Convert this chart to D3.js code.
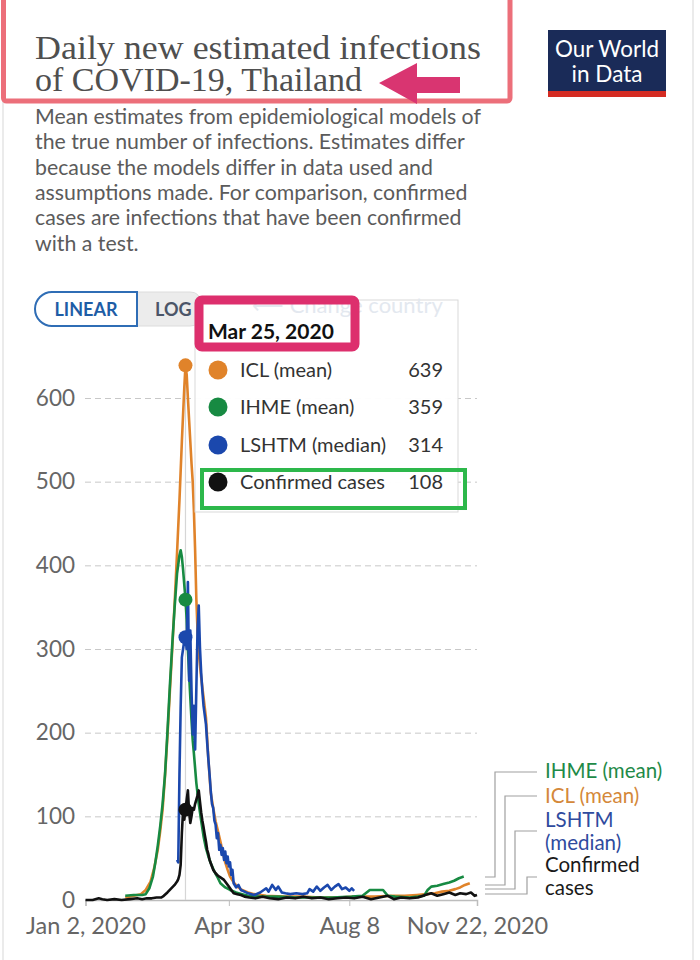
<!DOCTYPE html>
<html><head><meta charset="utf-8">
<script src="https://cdn.jsdelivr.net/npm/d3@7"></script>
<style>
html,body{margin:0;padding:0;background:#fff;}
svg{display:block;font-family:Lato, "Noto Sans", sans-serif;}
</style></head>
<body>
<svg id="chart" width="700" height="960"></svg>
<script>
// ---------- data ----------
const titleLines = ["Daily new estimated infections", "of COVID-19, Thailand"];
const subtitleLines = [
  "Mean estimates from epidemiological models of",
  "the true number of infections. Estimates differ",
  "because the models differ in data used and",
  "assumptions made. For comparison, confirmed",
  "cases are infections that have been confirmed",
  "with a test."
];
const seriesNames = ["ICL (mean)", "IHME (mean)", "LSHTM (median)", "Confirmed cases"];
const seriesColors = ["#e0832a", "#178a42", "#1b48ad", "#111111"];
const legendColors = ["#d4883a", "#1e8a48", "#2f4b9e", "#1a1a1a"];
const legendOrder = [1, 0, 2, 3];
const legendLines = [["IHME (mean)"], ["ICL (mean)"], ["LSHTM", "(median)"], ["Confirmed", "cases"]];

const hoverDate = "2020-03-25";
const hoverLabel = "Mar 25, 2020";
const hoverValues = [639, 359, 314, 108];

const yTicks = [0, 100, 200, 300, 400, 500, 600];
const xTickDates = ["2020-01-02", "2020-04-30", "2020-08-08", "2020-11-22"];
const xTickLabels = ["Jan 2, 2020", "Apr 30", "Aug 8", "Nov 22, 2020"];

const icl = [
  ["02-04",3],["02-11",5],["02-17",7],["02-21",12],["02-25",22],["02-28",38],["03-02",60],
  ["03-04",82],["03-06",108],["03-08",148],["03-10",195],["03-12",248],["03-14",300],
  ["03-16",355],["03-18",415],["03-20",478],["03-22",548],["03-24",612],["03-25",639],
  ["03-26",628],["03-27",600],["03-28",574],["03-29",548],["03-30",522],["03-31",500],
  ["04-01",465],["04-02",418],["04-03",360],["04-04",322],["04-05",296],["04-07",266],
  ["04-09",242],["04-11",218],["04-13",168],["04-15",128],["04-17",110],["04-19",94],
  ["04-21",82],["04-23",70],["04-25",57],["04-27",45],["04-29",36],["05-01",28],["05-04",21],
  ["05-07",16],["05-11",12],["05-16",9],["05-21",7],["05-31",5],["06-15",4],["06-30",4],
  ["07-15",3],["07-30",3],["08-14",4],["08-29",4],["09-13",5],["09-23",5],["10-03",6],
  ["10-11",7],["10-18",8],["10-24",10],["10-30",11],["11-04",13],["11-08",15],["11-12",18],["11-16",20]
];
const ihme = [
  ["02-04",5],["02-11",6],["02-18",6],["02-21",7],["02-24",14],["02-27",28],["02-29",45],
  ["03-02",65],["03-04",88],["03-06",115],["03-08",150],["03-10",200],["03-12",255],
  ["03-14",305],["03-16",350],["03-18",390],["03-20",412],["03-21",418],["03-22",410],
  ["03-23",395],["03-24",377],["03-25",359],["03-26",335],["03-27",300],["03-28",270],
  ["03-29",242],["03-30",215],["03-31",191],["04-01",175],["04-03",140],["04-05",115],
  ["04-07",95],["04-09",76],["04-11",62],["04-13",52],["04-15",44],["04-18",34],["04-21",26],
  ["04-23",20],["04-27",15],["05-01",12],["05-06",9],["05-11",7],["05-16",5],["05-25",4],
  ["06-10",4],["06-25",3],["07-10",3],["07-25",3],["08-10",4],["08-19",5],["08-25",12],
  ["09-05",12],["09-09",5],["09-15",4],["09-27",3],["10-04",4],["10-09",5],["10-12",12],
  ["10-15",16],["10-20",17],["10-25",19],["10-30",21],["11-03",23],["11-07",26],["11-11",28]
];
const lshtm = [
  ["03-18",48],["03-19",45],["03-20",150],["03-21",230],["03-22",290],["03-23",300],
  ["03-24",310],["03-25",314],["03-26",300],["03-27",380],["03-28",262],["03-29",322],
  ["03-30",250],["03-31",198],["04-01",232],["04-02",180],["04-03",252],["04-04",322],
  ["04-05",352],["04-06",302],["04-07",272],["04-08",250],["04-09",232],["04-11",210],
  ["04-12",188],["04-13",168],["04-14",150],["04-15",130],["04-16",115],["04-17",110],
  ["04-18",95],["04-19",90],["04-20",74],["04-21",80],["04-22",60],["04-23",66],["04-24",54],
  ["04-25",62],["04-26",48],["04-27",58],["04-28",44],["04-29",52],["04-30",40],["05-01",45],
  ["05-02",30],["05-03",36],["05-04",20],["05-06",15],["05-08",18],["05-10",12],["05-13",10],
  ["05-16",8],["05-21",6],["05-26",9],["05-31",14],["06-02",10],["06-05",18],["06-08",12],
  ["06-10",16],["06-13",9],["06-16",8],["06-20",7],["06-25",8],["06-30",7],["07-04",8],
  ["07-06",13],["07-09",10],["07-12",16],["07-15",11],["07-18",15],["07-21",18],["07-24",12],
  ["07-27",16],["07-30",19],["08-02",13],["08-05",15],["08-08",11],["08-10",14],["08-12",11]
];
const confirmed = [
  ["01-02",0],["01-08",0],["01-13",2],["01-16",1],["01-20",0],["01-26",1],["02-01",0],
  ["02-08",1],["02-14",2],["02-18",1],["02-22",2],["02-26",2],["03-01",3],["03-05",3],
  ["03-07",5],["03-10",9],["03-12",12],["03-14",15],["03-16",18],["03-18",22],["03-19",25],
  ["03-20",30],["03-21",42],["03-22",80],["03-23",107],["03-24",96],["03-25",108],["03-26",120],
  ["03-27",131],["03-28",105],["03-29",92],["03-30",100],["03-31",110],["04-01",108],
  ["04-02",115],["04-03",120],["04-04",125],["04-05",131],["04-06",118],["04-07",105],
  ["04-08",95],["04-09",87],["04-10",78],["04-11",70],["04-12",60],["04-13",55],["04-14",48],
  ["04-15",44],["04-16",40],["04-17",36],["04-19",32],["04-21",29],["04-23",27],["04-26",24],
  ["04-28",20],["04-30",16],["05-02",12],["05-04",8],["05-07",7],["05-10",6],["05-13",4],
  ["05-17",3],["05-22",2],["05-28",4],["06-03",2],["06-10",1],["06-17",3],["06-24",2],
  ["07-01",4],["07-08",2],["07-15",3],["07-22",1],["07-29",2],["08-05",3],["08-12",2],
  ["08-19",4],["08-26",1],["09-02",3],["09-09",5],["09-14",1],["09-20",3],["09-27",2],
  ["10-04",3],["10-10",6],["10-15",8],["10-20",5],["10-25",7],["10-30",9],["11-04",6],
  ["11-08",8],["11-13",7],["11-17",9],["11-20",5],["11-22",6]
];
const seriesData = [icl, ihme, lshtm, confirmed];

// ---------- drawing ----------
const svg = d3.select("#chart");
const parse = d3.timeParse("%Y-%m-%d");
const toPts = arr => arr.map(([d, v]) => ({date: parse("2020-" + d), value: v}));
const series = seriesData.map(toPts);

// card border
svg.append("line").attr("x1", 693).attr("x2", 693).attr("y1", 0).attr("y2", 960)
  .attr("stroke", "#e4e4e4").attr("stroke-width", 1.5);
svg.append("line").attr("x1", 3).attr("x2", 3).attr("y1", 0).attr("y2", 960)
  .attr("stroke", "#e4e4e4").attr("stroke-width", 1.5);

// title
const title = svg.append("g").attr("font-family", "'Liberation Serif', 'DejaVu Serif', serif")
  .attr("fill", "#4f4f4f").attr("font-size", 33);
title.append("text").attr("x", 35).attr("y", 59).text(titleLines[0])
  .attr("textLength", 446).attr("lengthAdjust", "spacingAndGlyphs");
title.append("text").attr("x", 35).attr("y", 91).text(titleLines[1])
  .attr("textLength", 327).attr("lengthAdjust", "spacingAndGlyphs");

// subtitle
svg.append("g").attr("fill", "#5b5b5b").attr("font-size", 21.3)
  .selectAll("text").data(subtitleLines).join("text")
  .attr("x", 35).attr("y", (d, i) => 124 + i * 25.3).text(d => d);

// logo
const logo = svg.append("g");
logo.append("rect").attr("x", 548).attr("y", 30).attr("width", 118).attr("height", 61).attr("fill", "#1a2b58");
logo.append("rect").attr("x", 548).attr("y", 91).attr("width", 118).attr("height", 6).attr("fill", "#d42b22");
logo.append("text").attr("x", 607).attr("y", 57).attr("text-anchor", "middle").attr("fill", "#fff")
  .attr("font-size", 23).attr("textLength", 104).attr("lengthAdjust", "spacingAndGlyphs").text("Our World");
logo.append("text").attr("x", 607).attr("y", 82).attr("text-anchor", "middle").attr("fill", "#fff")
  .attr("font-size", 23).attr("textLength", 71).attr("lengthAdjust", "spacingAndGlyphs").text("in Data");

// linear/log toggle
svg.append("path").attr("d", "M137,292 L190,292 Q200,292 200,302 L200,316 Q200,326 190,326 L137,326 Z")
  .attr("fill", "#ececec").attr("stroke", "#dcdcdc");
svg.append("path").attr("d", "M137,292 L52,292 A17,17 0 0 0 52,326 L137,326 Z")
  .attr("fill", "#fff").attr("stroke", "#2f6db5").attr("stroke-width", 2);
svg.append("text").attr("x", 86).attr("y", 316).attr("text-anchor", "middle").attr("font-weight", "bold")
  .attr("font-size", 18).attr("fill", "#1e5da6").text("LINEAR");
svg.append("text").attr("x", 155).attr("y", 316).attr("font-weight", "bold")
  .attr("font-size", 18).attr("fill", "#4b5568").text("LOG");

// scales
const x = d3.scaleTime().domain([parse("2020-01-02"), parse("2020-11-22")]).range([85.5, 477]);
const y = d3.scaleLinear().domain([0, 600]).range([900, 398]);

// y axis + grid
const yAxis = svg.append("g").attr("transform", "translate(85,0)")
  .call(d3.axisLeft(y).tickValues(yTicks).tickSize(-392).tickPadding(10).tickFormat(d3.format("d")));
yAxis.select(".domain").remove();
yAxis.selectAll(".tick line").attr("stroke", "#c8c8c8").attr("stroke-dasharray", "6,4");
yAxis.selectAll(".tick").filter(d => d === 0).select("line").attr("stroke", "none");
yAxis.selectAll("text").attr("font-size", 22.5).attr("fill", "#666").attr("font-family", "Lato, sans-serif");

// x axis
const xAxis = svg.append("g").attr("transform", "translate(0,900)")
  .call(d3.axisBottom(x).tickValues(xTickDates.map(parse)).tickSize(6).tickPadding(11)
    .tickFormat((d, i) => xTickLabels[i]));
xAxis.select(".domain").attr("stroke", "#bdbdbd").attr("stroke-width", 1.5);
xAxis.selectAll(".tick line").attr("stroke", "#bdbdbd");
xAxis.selectAll("text").attr("font-size", 23.5).attr("fill", "#666").attr("font-family", "Lato, sans-serif");

// hover line
const hx = x(parse(hoverDate));
svg.append("line").attr("x1", hx).attr("x2", hx).attr("y1", y(hoverValues[0])).attr("y2", 900)
  .attr("stroke", "#d6d6d6").attr("stroke-width", 1.2);

// lines
const line = d3.line().x(d => x(d.date)).y(d => y(d.value));
svg.append("g").selectAll("path").data(series).join("path")
  .attr("d", line).attr("fill", "none")
  .attr("stroke", (d, i) => seriesColors[i]).attr("stroke-width", 2.6)
  .attr("stroke-linejoin", "round");

// hover dots
svg.append("g").selectAll("circle").data(hoverValues).join("circle")
  .attr("cx", hx).attr("cy", d => y(d)).attr("r", 7)
  .attr("fill", (d, i) => seriesColors[i]);

// legend connectors + labels
const lg = svg.append("g");
const labelY = [772, 796, 831, 877];
const textY = [778, 803, 827, 872];
const stubY = [877, 885, 889, 894];
const elbowX = [495, 505, 515, 527];
legendOrder.forEach((si, k) => {
  lg.append("path")
    .attr("d", `M485,${stubY[k]} H${elbowX[k]} V${labelY[k]} H537`)
    .attr("fill", "none").attr("stroke", "#a0a0a0").attr("stroke-width", 1.2);
  const t = lg.append("text").attr("font-size", 20.5).attr("fill", legendColors[si]);
  legendLines[k].forEach((s, j) => {
    t.append("tspan").attr("x", 545).attr("y", textY[k] + j * 23).text(s);
  });
});

// tooltip
const tip = svg.append("g");
tip.append("rect").attr("x", 195).attr("y", 300).attr("width", 263).attr("height", 212)
  .attr("fill", "#fff").attr("fill-opacity", 0.96).attr("stroke", "#d9d9d9");
tip.append("text").attr("x", 252).attr("y", 313).attr("font-size", 22).attr("fill", "#e3e8ef")
  .text("⟵ Change country");
tip.append("text").attr("x", 208).attr("y", 339).attr("font-size", 21).attr("font-weight", "bold")
  .attr("fill", "#111").text(hoverLabel);
const rowY = [370, 407, 445, 482];
seriesNames.forEach((n, i) => {
  tip.append("circle").attr("cx", 218).attr("cy", rowY[i]).attr("r", 9.5).attr("fill", seriesColors[i]);
  tip.append("text").attr("x", 240).attr("y", rowY[i] + 7).attr("font-size", 20).attr("fill", "#333").text(n);
  tip.append("text").attr("x", 443).attr("y", rowY[i] + 7).attr("font-size", 20).attr("fill", "#333")
    .attr("text-anchor", "end").text(hoverValues[i]);
});

// annotations
svg.append("rect").attr("x", 3.5).attr("y", -10).attr("width", 506.5).attr("height", 111).attr("rx", 3)
  .attr("fill", "none").attr("stroke", "#ec6f7a").attr("stroke-width", 5);
svg.append("polygon").attr("points", "379,83 417,63 417,77 460,77 460,93 417,93 417,104").attr("fill", "#d93571");
svg.append("rect").attr("x", 199).attr("y", 300).attr("width", 156).attr("height", 47).attr("rx", 3)
  .attr("fill", "none").attr("stroke", "#dd2f6d").attr("stroke-width", 9);
svg.append("rect").attr("x", 202).attr("y", 470).attr("width", 263).attr("height", 38)
  .attr("fill", "none").attr("stroke", "#2db84b").attr("stroke-width", 4);
</script>
</body></html>
